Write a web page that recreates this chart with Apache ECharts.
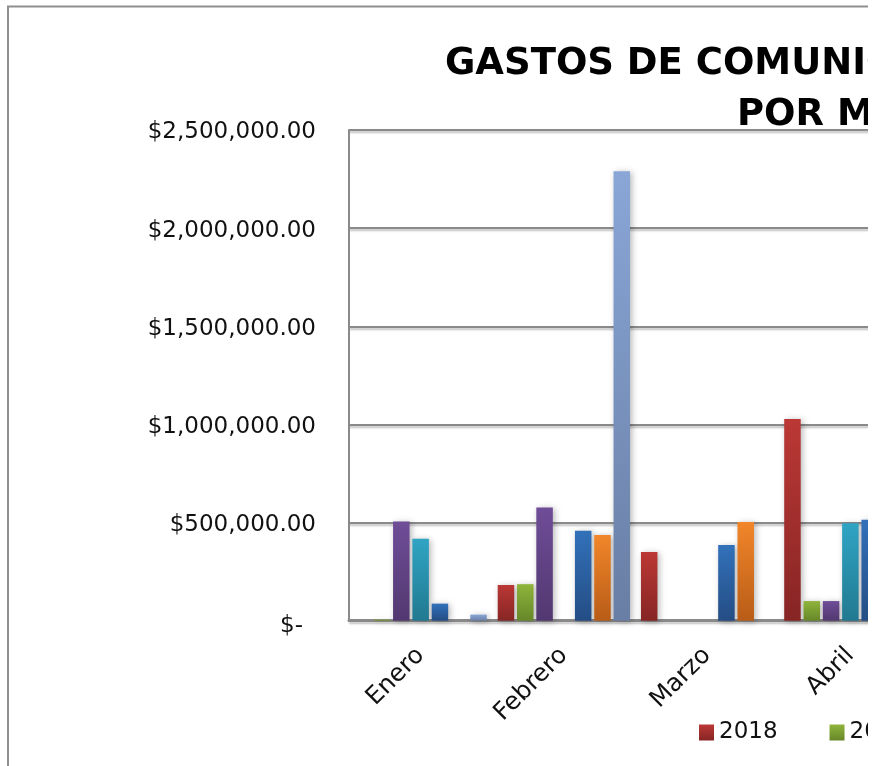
<!DOCTYPE html>
<html>
<head>
<meta charset="utf-8">
<script src="https://cdn.jsdelivr.net/npm/echarts@6/dist/echarts.min.js"></script>
<style>
  html, body { margin: 0; padding: 0; background: #fff; overflow: hidden; }
  #clip { position: absolute; left: 0; top: 0; width: 868px; height: 766px; overflow: hidden; }
  #chart { position: absolute; left: 0; top: 0; width: 940px; height: 766px; }
</style>
</head>
<body>
<div id="clip"><div id="chart"></div></div>
<script>
// ---- data ----
const months = ['Enero', 'Febrero', 'Marzo', 'Abril'];
const seriesNames = ['2018', '2019', '2020', '2021', '2022', '2023', '2024'];
const s2018 = [null, 182000, 350000, 1027000];
const s2019 = [5000, 186000, null, 100000];
const s2020 = [505000, 577000, null, 100000];
const s2021 = [418000, null, null, 497000];
const s2022 = [87000, 458000, 386000, 514000];
const s2023 = [null, 437000, 503000, null];
const s2024 = [31000, 2290000, null, null];
const yTicks = [0, 500000, 1000000, 1500000, 2000000, 2500000];
const titleLine1 = 'GASTOS DE COMUNICACIÓN SOCIAL';
const titleLine2 = 'POR MES';

const seriesValues = [s2018, s2019, s2020, s2021, s2022, s2023, s2024];
const colorStops = [
  ['#bb3835', '#862524'],
  ['#8fb43b', '#678729'],
  ['#6f4d98', '#523870'],
  ['#30a4c4', '#217990'],
  ['#3271ba', '#244d84'],
  ['#f2862a', '#b85c17'],
  ['#89a6d7', '#697ea4']
];
const FONT = 'DejaVu Sans';

const chart = echarts.init(document.getElementById('chart'), null, { renderer: 'canvas' });

const series = seriesNames.map((name, i) => ({
  name: name,
  type: 'bar',
  data: seriesValues[i],
  barWidth: 16.5,
  barGap: '17%',
  itemStyle: {
    color: new echarts.graphic.LinearGradient(0, 0, 0, 1, [
      { offset: 0, color: colorStops[i][0] },
      { offset: 1, color: colorStops[i][1] }
    ]),
    shadowColor: 'rgba(0,0,0,0.28)',
    shadowBlur: 6,
    shadowOffsetX: 2,
    shadowOffsetY: 1
  }
}));

chart.setOption({
  animation: false,
  backgroundColor: '#ffffff',
  graphic: [{
    type: 'rect',
    shape: { x: 8, y: 6.5, width: 1200, height: 900 },
    style: { fill: 'none', stroke: '#8f8f8f', lineWidth: 2 },
    z: -1
  }],
  title: [
    {
      text: titleLine1, left: 445, top: 46, padding: 0,
      textStyle: { fontFamily: FONT, fontWeight: 'bold', fontSize: 37, color: '#000' }
    },
    {
      text: titleLine2, left: 737, top: 97, padding: 0,
      textStyle: { fontFamily: FONT, fontWeight: 'bold', fontSize: 37, color: '#000' }
    }
  ],
  legend: {
    left: 699, top: 721, padding: 0,
    icon: 'rect',
    itemWidth: 15, itemHeight: 16,
    itemGap: 52,
    data: seriesNames,
    textStyle: { fontFamily: FONT, fontSize: 23, color: '#111' }
  },
  grid: { left: 349, top: 130, bottom: 145.3, width: 573, containLabel: false },
  xAxis: {
    type: 'category',
    data: months,
    axisTick: { show: false },
    axisLine: { lineStyle: { color: '#8a8a8a', width: 3 } },
    axisLabel: {
      rotate: 45, margin: 31,
      fontFamily: FONT, fontSize: 24.5, color: '#111',
      interval: 0
    }
  },
  yAxis: {
    type: 'value',
    min: yTicks[0],
    max: yTicks[yTicks.length - 1],
    interval: yTicks[1] - yTicks[0],
    axisLine: { show: true, lineStyle: { color: '#8a8a8a', width: 2 } },
    axisTick: { show: false },
    splitLine: {
      lineStyle: {
        color: '#8a8a8a', width: 2,
        shadowColor: 'rgba(0,0,0,0.25)', shadowBlur: 2, shadowOffsetY: 2
      }
    },
    axisLabel: {
      margin: 33,
      padding: [5, 0, 0, 0],
      fontFamily: FONT, fontSize: 23, color: '#111',
      formatter: function (v) {
        if (v === 0) return '{z|$-}';
        return '$' + v.toLocaleString('en-US', { minimumFractionDigits: 2, maximumFractionDigits: 2 });
      },
      rich: {
        z: { fontFamily: FONT, fontSize: 23, color: '#111', padding: [6, 13, 0, 0] }
      }
    }
  },
  series: series
});
</script>
</body>
</html>
